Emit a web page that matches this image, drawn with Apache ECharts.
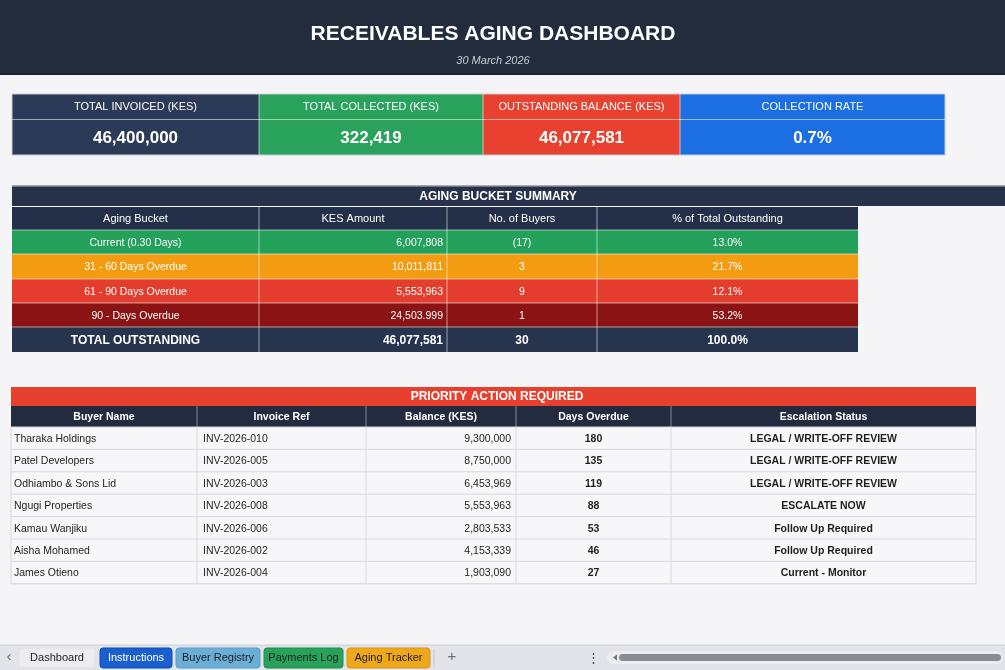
<!DOCTYPE html>
<html>
<head>
<meta charset="utf-8">
<script src="https://cdn.jsdelivr.net/npm/echarts@6/dist/echarts.min.js"></script>
<style>
html,body{margin:0;padding:0;background:#f5f5f8;}
#main{width:1005px;height:670px;}
</style>
</head>
<body>
<div id="main"></div>
<script>
// ---------- DATA ----------
const dashTitle = 'RECEIVABLES AGING DASHBOARD';
const dashDate = '30 March 2026';

const kpiLabels = ['TOTAL INVOICED (KES)', 'TOTAL COLLECTED (KES)', 'OUTSTANDING BALANCE (KES)', 'COLLECTION RATE'];
const kpiValues = ['46,400,000', '322,419', '46,077,581', '0.7%'];

const agingTitle = 'AGING BUCKET SUMMARY';
const agingHeaders = ['Aging Bucket', 'KES Amount', 'No. of Buyers', '% of Total Outstanding'];
const agingBuckets = ['Current (0.30 Days)', '31 - 60 Days Overdue', '61 - 90 Days Overdue', '90 - Days Overdue'];
const agingAmounts = ['6,007,808', '10,011,811', '5,553,963', '24,503.999'];
const agingBuyers = ['(17)', '3', '9', '1'];
const agingPct = ['13.0%', '21.7%', '12.1%', '53.2%'];
const agingTotal = ['TOTAL OUTSTANDING', '46,077,581', '30', '100.0%'];

const priorityTitle = 'PRIORITY ACTION REQUIRED';
const priorityHeaders = ['Buyer Name', 'Invoice Ref', 'Balance (KES)', 'Days Overdue', 'Escalation Status'];
const buyerNames = ['Tharaka Holdings', 'Patel Developers', 'Odhiambo & Sons Lid', 'Ngugi Properties', 'Kamau Wanjiku', 'Aisha Mohamed', 'James Otieno'];
const invoiceRefs = ['INV-2026-010', 'INV-2026-005', 'INV-2026-003', 'INV-2026-008', 'INV-2026-006', 'INV-2026-002', 'INV-2026-004'];
const balances = ['9,300,000', '8,750,000', '6,453,969', '5,553,963', '2,803,533', '4,153,339', '1,903,090'];
const daysOverdue = [180, 135, 119, 88, 53, 46, 27];
const statuses = ['LEGAL / WRITE-OFF REVIEW', 'LEGAL / WRITE-OFF REVIEW', 'LEGAL / WRITE-OFF REVIEW', 'ESCALATE NOW', 'Follow Up Required', 'Follow Up Required', 'Current - Monitor'];

const sheetTabs = ['Dashboard', 'Instructions', 'Buyer Registry', 'Payments Log', 'Aging Tracker'];

// ---------- LAYOUT / STYLE ----------
const FONT = '"Liberation Sans", Arial, sans-serif';
const DY = 1; // vertical text nudge
const els = [];
function rect(x, y, w, h, fill, stroke, lw, r) {
  els.push({type: 'rect', shape: {x: x, y: y, width: w, height: h, r: r || 0},
    style: {fill: fill, stroke: stroke || null, lineWidth: lw || 0}, silent: true});
}
function line(x1, y1, x2, y2, color, lw) {
  els.push({type: 'line', shape: {x1: x1, y1: y1, x2: x2, y2: y2},
    style: {stroke: color, lineWidth: lw || 1}, silent: true});
}
function text(x, y, str, size, fill, opts) {
  opts = opts || {};
  els.push({type: 'text', x: x, y: y + DY, silent: true,
    style: {text: String(str), fill: fill,
      font: (opts.italic ? 'italic ' : '') + (opts.bold ? 'bold ' : '') + size + 'px ' + FONT,
      align: opts.align || 'center', verticalAlign: 'middle'}});
}

// Header bar
rect(0, 0, 1005, 74, '#232c3c');
line(0, 74, 1005, 74, '#1a2130', 2);
text(493, 33, dashTitle, 21, '#ffffff', {bold: true});
text(493, 60, dashDate, 11, '#c9ced8', {italic: true});

// KPI cards
const kpiX = [12, 259, 483, 680, 945];
const kpiColors = ['#2b3a56', '#29a25b', '#e8412f', '#1b6fe2'];
for (let i = 0; i < kpiLabels.length; i++) {
  const x0 = kpiX[i], w = kpiX[i + 1] - kpiX[i];
  rect(x0, 94, w, 61, kpiColors[i]);
  line(x0, 119.5, x0 + w, 119.5, 'rgba(255,255,255,0.55)', 1);
  text(x0 + w / 2, 106, kpiLabels[i], 11, '#ffffff');
  text(x0 + w / 2, 137, kpiValues[i], 17, '#ffffff', {bold: true});
}
for (let i = 1; i < kpiLabels.length; i++) line(kpiX[i], 94, kpiX[i], 155, 'rgba(255,255,255,0.6)', 1);
rect(12, 94, 933, 61, null, '#c8ccd6', 1);

// Aging bucket summary
rect(12, 186, 993, 20, '#26324a');
line(12, 186, 1005, 186, '#8a909c', 1.5);
text(498, 196, agingTitle, 12, '#ffffff', {bold: true});
const agX = [12, 259, 447, 597, 858];
const agRowY = [207, 230, 254, 279, 303, 327, 352];
const agRowColors = ['#243049', '#23a05a', '#f39c12', '#e43d2e', '#8b1313', '#27344d'];
for (let r = 0; r < 6; r++) rect(12, agRowY[r], 846, agRowY[r + 1] - agRowY[r], agRowColors[r]);
for (let r = 1; r < 6; r++) line(12, agRowY[r], 858, agRowY[r], 'rgba(255,255,255,0.55)', 1);
for (let c = 1; c < 4; c++) line(agX[c], 207, agX[c], 352, 'rgba(255,255,255,0.55)', 1);
function agCell(c, r, str, size, bold) {
  const yMid = (agRowY[r] + agRowY[r + 1]) / 2;
  if (c === 1) text(agX[2] - 4, yMid, str, size, '#ffffff', {bold: bold, align: 'right'});
  else text((agX[c] + agX[c + 1]) / 2, yMid, str, size, '#ffffff', {bold: bold});
}
for (let c = 0; c < 4; c++) text((agX[c] + agX[c + 1]) / 2, 218, agingHeaders[c], 11, '#ffffff');
for (let i = 0; i < agingBuckets.length; i++) {
  agCell(0, i + 1, agingBuckets[i], 10.5, false);
  agCell(1, i + 1, agingAmounts[i], 10.5, false);
  agCell(2, i + 1, agingBuyers[i], 10.5, false);
  agCell(3, i + 1, agingPct[i], 10.5, false);
}
for (let c = 0; c < 4; c++) agCell(c, 5, agingTotal[c], 12, true);

// Priority action table
const prX = [11, 197, 366, 516, 671, 976];
rect(11, 387, 965, 19, '#e8402e');
text(497, 396, priorityTitle, 12, '#ffffff', {bold: true});
rect(11, 406, 965, 21, '#222c3e');
for (let c = 1; c < 5; c++) line(prX[c], 406, prX[c], 427, 'rgba(255,255,255,0.45)', 1);
for (let c = 0; c < 5; c++) text((prX[c] + prX[c + 1]) / 2, 416.5, priorityHeaders[c], 10.5, '#ffffff', {bold: true});
const rowH = 22.4;
const prTop = 427;
rect(11, prTop, 965, rowH * buyerNames.length, '#f7f7fa', '#d3d5dc', 1);
for (let r = 1; r < buyerNames.length; r++) line(11, prTop + r * rowH, 976, prTop + r * rowH, '#d8dae0', 1);
for (let c = 1; c < 5; c++) line(prX[c], prTop, prX[c], prTop + rowH * buyerNames.length, '#d8dae0', 1);
for (let r = 0; r < buyerNames.length; r++) {
  const yMid = prTop + r * rowH + rowH / 2;
  text(14, yMid, buyerNames[r], 10.5, '#1e1e22', {align: 'left'});
  text(203, yMid, invoiceRefs[r], 10.5, '#1e1e22', {align: 'left'});
  text(511, yMid, balances[r], 10.5, '#1e1e22', {align: 'right'});
  text((prX[3] + prX[4]) / 2, yMid, daysOverdue[r], 10.5, '#1e1e22', {bold: true});
  text((prX[4] + prX[5]) / 2, yMid, statuses[r], 10.5, '#1e1e22', {bold: true});
}

// Sheet tab bar
rect(0, 645, 1005, 25, '#e3e3ea');
line(0, 645, 1005, 645, '#cfd0d8', 1);
text(9, 656, '‹', 15, '#666a74');
const tabX = [19, 100, 176, 264, 347];
const tabW = [76, 72, 84, 79, 83];
const tabFill = ['#ececf1', '#1a5fd0', '#6aaed8', '#27a25b', '#efa81a'];
const tabStroke = ['#e0e0e6', '#134cae', '#5b9cc6', '#1f8a4c', '#d9951a'];
const tabText = ['#1e1e22', '#ffffff', '#1e1e22', '#1e1e22', '#1e1e22'];
for (let i = 0; i < sheetTabs.length; i++) {
  rect(tabX[i], 648, tabW[i], 20, tabFill[i], tabStroke[i], 1, 3);
  text(tabX[i] + tabW[i] / 2, 657, sheetTabs[i], 11, tabText[i]);
}
line(434, 649, 434, 667, '#c4c5cc', 1);
text(452, 656, '+', 15, '#6a6d76');
text(593, 657, '⋮', 13, '#4a4d55');
rect(607, 651, 396, 13, '#ececf1', null, 0, 6.5);
els.push({type: 'polygon', shape: {points: [[613, 657.5], [617, 654.5], [617, 660.5]]}, style: {fill: '#6e7079'}, silent: true});
rect(619, 654, 382, 7, '#8a8b93', null, 0, 3.5);

const chart = echarts.init(document.getElementById('main'), null, {renderer: 'canvas'});
chart.setOption({
  backgroundColor: '#f5f5f8',
  animation: false,
  graphic: {elements: els}
});
</script>
</body>
</html>
